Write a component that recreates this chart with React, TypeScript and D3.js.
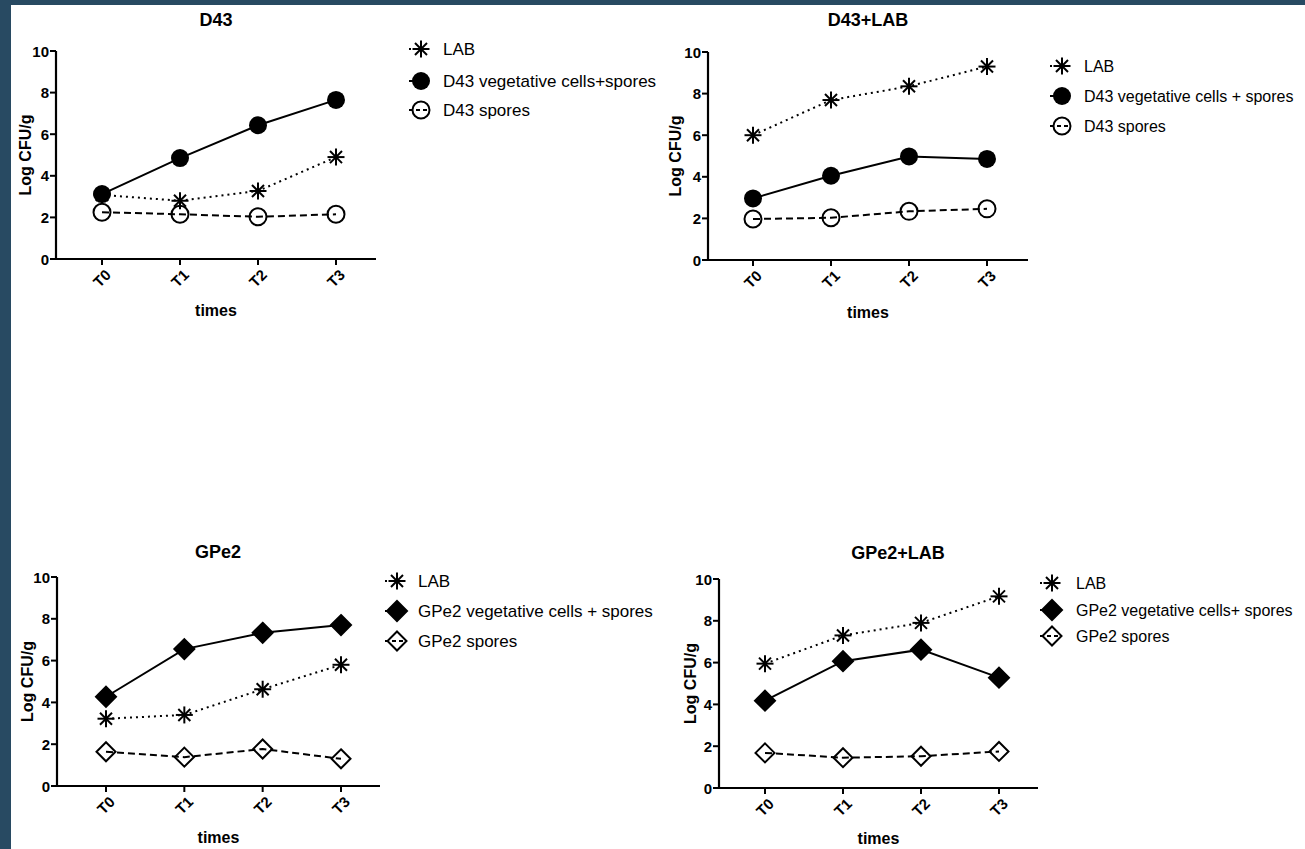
import React from "react";
import * as d3 from "d3";

const times = ["T0", "T1", "T2", "T3"];
const yTicks = [0, 2, 4, 6, 8, 10];

// D43
const d43LAB = [3.08, 2.8, 3.27, 4.9];
const d43Veg = [3.12, 4.85, 6.43, 7.65];
const d43Spores = [2.25, 2.15, 2.03, 2.15];
// D43+LAB
const d43labLAB = [6.0, 7.69, 8.35, 9.3];
const d43labVeg = [2.96, 4.05, 4.98, 4.86];
const d43labSpores = [1.97, 2.03, 2.34, 2.46];
// GPe2
const gpe2LAB = [3.22, 3.4, 4.63, 5.8];
const gpe2Veg = [4.27, 6.55, 7.33, 7.7];
const gpe2Spores = [1.64, 1.38, 1.77, 1.3];
// GPe2+LAB
const gpe2labLAB = [5.95, 7.3, 7.9, 9.17];
const gpe2labVeg = [4.18, 6.07, 6.62, 5.28];
const gpe2labSpores = [1.68, 1.45, 1.52, 1.75];

const FONT = "'Liberation Sans', Arial, sans-serif";

type Sym = "asterisk" | "circle" | "openCircle" | "diamond" | "openDiamond";
type Dash = "solid" | "dotted" | "dashed";

const dashOf = (d: Dash) => (d === "dotted" ? "2 4" : d === "dashed" ? "7 4" : undefined);

const Marker = ({ x, y, sym }: { x: number; y: number; sym: Sym }) => {
  if (sym === "asterisk") {
    const r = 8.5;
    return (
      <g transform={`translate(${x},${y})`} stroke="#000" strokeWidth={2}>
        {[0, 45, 90, 135].map(a => {
          const rad = (a * Math.PI) / 180;
          return (
            <line
              key={a}
              x1={-r * Math.cos(rad)}
              y1={-r * Math.sin(rad)}
              x2={r * Math.cos(rad)}
              y2={r * Math.sin(rad)}
            />
          );
        })}
      </g>
    );
  }
  if (sym === "circle") return <circle cx={x} cy={y} r={9} fill="#000" />;
  if (sym === "openCircle")
    return <circle cx={x} cy={y} r={8.5} fill="none" stroke="#000" strokeWidth={2} />;
  const s = sym === "diamond" ? 10 : 9.5;
  return (
    <path
      d={`M${x},${y - s}L${x + s},${y}L${x},${y + s}L${x - s},${y}Z`}
      fill={sym === "diamond" ? "#000" : "none"}
      stroke="#000"
      strokeWidth={2}
      strokeLinejoin="miter"
    />
  );
};

type Series = { name: string; values: number[]; sym: Sym; dash: Dash };

type PanelProps = {
  title: string;
  series: Series[];
  x0: number;
  t0: number;
  t3: number;
  xEnd: number;
  yTop: number;
  yBot: number;
  titleX: number;
  titleY: number;
  ylabX: number;
  timesY: number;
  legX: number;
  legYs: number[];
  legTextX: number;
  legFont: number;
};

const Panel = (p: PanelProps) => {
  const x = d3.scalePoint<string>().domain(times).range([p.t0, p.t3]);
  const y = d3.scaleLinear().domain([0, 10]).range([p.yBot, p.yTop]);
  const line = d3
    .line<number>()
    .x((d, i) => x(times[i]) as number)
    .y(d => y(d));
  const midY = (p.yTop + p.yBot) / 2;

  return (
    <g fontFamily={FONT} fill="#000">
      <text x={p.titleX} y={p.titleY} textAnchor="middle" dominantBaseline="central" fontWeight="bold" fontSize={18}>
        {p.title}
      </text>
      {/* axes */}
      <line x1={p.x0} y1={p.yTop} x2={p.x0} y2={p.yBot} stroke="#000" strokeWidth={2.2} />
      <line x1={p.x0 - 1} y1={p.yBot} x2={p.xEnd} y2={p.yBot} stroke="#000" strokeWidth={2.2} />
      {yTicks.map(t => (
        <g key={t}>
          <line x1={p.x0 - 6} x2={p.x0} y1={y(t)} y2={y(t)} stroke="#000" strokeWidth={2} />
          <text x={p.x0 - 7} y={y(t)} textAnchor="end" dominantBaseline="central" fontWeight="bold" fontSize={15}>
            {t}
          </text>
        </g>
      ))}
      {times.map(t => (
        <g key={t}>
          <line x1={x(t)} x2={x(t)} y1={p.yBot} y2={p.yBot + 6} stroke="#000" strokeWidth={2} />
          <text
            transform={`translate(${(x(t) as number) + 6},${p.yBot + 13}) rotate(-45)`}
            textAnchor="end"
            dominantBaseline="central"
            fontWeight="bold"
            fontSize={15}
          >
            {t}
          </text>
        </g>
      ))}
      <text
        transform={`translate(${p.ylabX},${midY}) rotate(-90)`}
        textAnchor="middle"
        dominantBaseline="central"
        fontWeight="bold"
        fontSize={16}
      >
        Log CFU/g
      </text>
      <text x={(p.x0 + p.xEnd) / 2} y={p.timesY} textAnchor="middle" dominantBaseline="central" fontWeight="bold" fontSize={16}>
        times
      </text>
      {/* series */}
      {p.series.map(s => (
        <g key={s.name}>
          <path d={line(s.values) || ""} fill="none" stroke="#000" strokeWidth={2} strokeDasharray={dashOf(s.dash)} />
          {s.values.map((v, i) => (
            <Marker key={i} x={x(times[i]) as number} y={y(v)} sym={s.sym} />
          ))}
        </g>
      ))}
      {/* legend */}
      {p.series.map((s, i) => (
        <g key={"leg" + s.name}>
          <line
            x1={p.legX - 12}
            x2={p.legX + 8}
            y1={p.legYs[i]}
            y2={p.legYs[i]}
            stroke="#000"
            strokeWidth={2}
            strokeDasharray={s.dash === "dotted" ? "2 3" : s.dash === "dashed" ? "4 3" : undefined}
          />
          <Marker x={p.legX} y={p.legYs[i]} sym={s.sym} />
          <text x={p.legTextX} y={p.legYs[i]} dominantBaseline="central" fontSize={p.legFont}>
            {s.name}
          </text>
        </g>
      ))}
    </g>
  );
};

const App = () => {
  document.body.style.margin = "0";
  document.body.style.overflow = "hidden";
  return (
    <svg width={1305} height={849} style={{ display: "block", background: "#fff" }}>
      <rect x={0} y={0} width={1305} height={5} fill="#284a62" />
      <rect x={0} y={0} width={11} height={849} fill="#284a62" />
      <Panel
        title="D43"
        series={[
          { name: "LAB", values: d43LAB, sym: "asterisk", dash: "dotted" },
          { name: "D43 vegetative cells+spores", values: d43Veg, sym: "circle", dash: "solid" },
          { name: "D43 spores", values: d43Spores, sym: "openCircle", dash: "dashed" },
        ]}
        x0={56}
        t0={102}
        t3={336}
        xEnd={376}
        yTop={51}
        yBot={259}
        titleX={216}
        titleY={20}
        ylabX={25}
        timesY={310}
        legX={421}
        legYs={[49, 81, 110]}
        legTextX={443}
        legFont={17}
      />
      <Panel
        title="D43+LAB"
        series={[
          { name: "LAB", values: d43labLAB, sym: "asterisk", dash: "dotted" },
          { name: "D43 vegetative cells + spores", values: d43labVeg, sym: "circle", dash: "solid" },
          { name: "D43 spores", values: d43labSpores, sym: "openCircle", dash: "dashed" },
        ]}
        x0={708}
        t0={753}
        t3={987}
        xEnd={1028}
        yTop={52}
        yBot={260}
        titleX={868}
        titleY={20}
        ylabX={675}
        timesY={312}
        legX={1062}
        legYs={[66, 96, 126]}
        legTextX={1084}
        legFont={16}
      />
      <Panel
        title="GPe2"
        series={[
          { name: "LAB", values: gpe2LAB, sym: "asterisk", dash: "dotted" },
          { name: "GPe2 vegetative cells + spores", values: gpe2Veg, sym: "diamond", dash: "solid" },
          { name: "GPe2 spores", values: gpe2Spores, sym: "openDiamond", dash: "dashed" },
        ]}
        x0={57}
        t0={106}
        t3={341}
        xEnd={380}
        yTop={577}
        yBot={786}
        titleX={218}
        titleY={552}
        ylabX={27}
        timesY={837}
        legX={397}
        legYs={[581, 611, 641]}
        legTextX={418}
        legFont={17}
      />
      <Panel
        title="GPe2+LAB"
        series={[
          { name: "LAB", values: gpe2labLAB, sym: "asterisk", dash: "dotted" },
          { name: "GPe2 vegetative cells+ spores", values: gpe2labVeg, sym: "diamond", dash: "solid" },
          { name: "GPe2 spores", values: gpe2labSpores, sym: "openDiamond", dash: "dashed" },
        ]}
        x0={719}
        t0={765}
        t3={999}
        xEnd={1038}
        yTop={579}
        yBot={788}
        titleX={898}
        titleY={553}
        ylabX={690}
        timesY={838}
        legX={1052}
        legYs={[583, 610, 636]}
        legTextX={1076}
        legFont={16}
      />
    </svg>
  );
};

export default App;
